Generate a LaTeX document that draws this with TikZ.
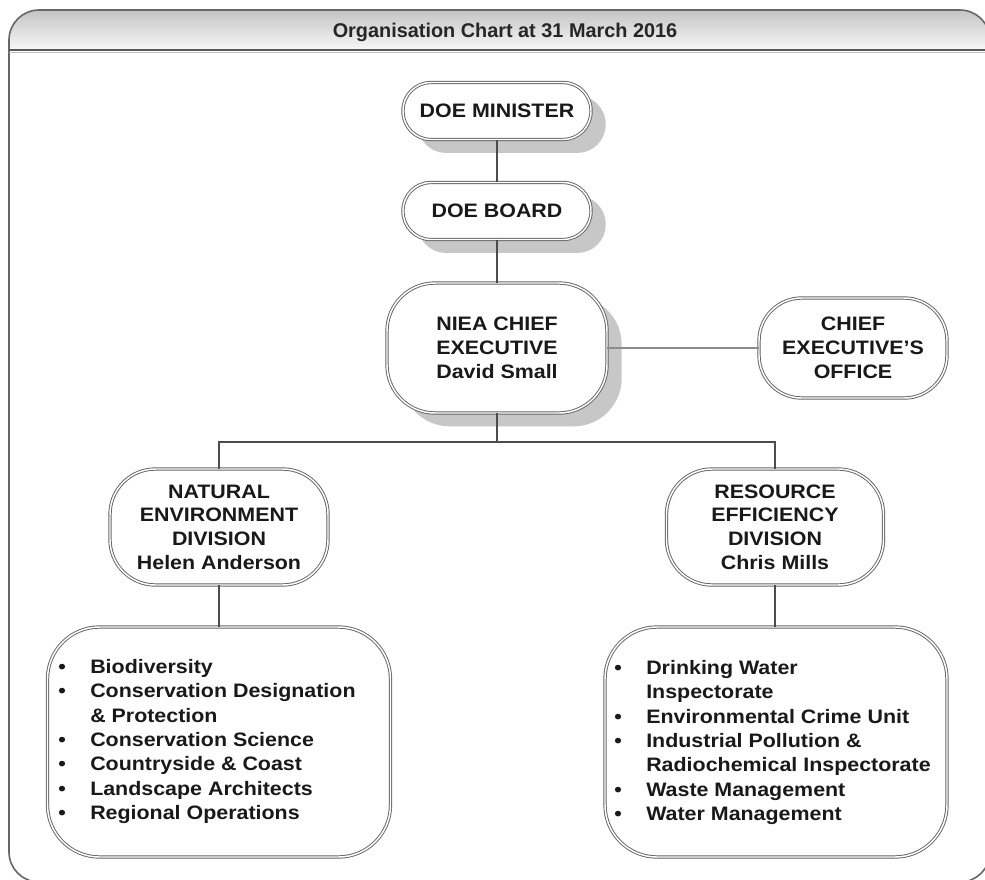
\documentclass[tikz,border=0pt]{standalone}
\usepackage{fontspec}
\setmainfont{Liberation Sans}[FakeStretch=1.1]
\newfontfamily\headfont{Liberation Sans}
\usetikzlibrary{shadows}
\newcommand\bul{\makebox[24pt][l]{•}}
\begin{document}
\begin{tikzpicture}[x=0.75pt,y=-0.75pt,
  box/.style={draw=black!60, double=white, double distance=1.1pt, line width=0.7pt,
    fill=white, align=center, inner sep=0pt, text=black!90,
    font=\bfseries\fontsize{14.6}{17.8}\selectfont},
  shad/.style={drop shadow={shadow xshift=11pt, shadow yshift=-10pt, fill=black!22, opacity=1}},
  listtext/.style={align=left, inner sep=0pt, text=black!90,
    font=\bfseries\fontsize{14.6}{18.3}\selectfont},
  conn/.style={draw=black!70, line width=1.1pt},
  thinconn/.style={draw=black!45, line width=0.9pt},
  frame/.style={draw=black!60, line width=1.2pt}]
\useasboundingbox (0,0) rectangle (985,879);

% outer frame and header
\begin{scope}
  \clip[rounded corners=22.5pt] (9,10) rectangle (990,882);
  \shade[top color=black!28, bottom color=black!3] (0,0) rectangle (995,50);
\end{scope}
\draw[frame, rounded corners=22.5pt] (9,10) rectangle (990,882);
\draw[black!65, line width=1pt] (9,50) -- (990,50);
\draw[black!25, line width=0.8pt] (9,52.5) -- (990,52.5);
\node[anchor=base, font=\headfont\bfseries\fontsize{14.9}{17}\selectfont, text=black!85] (title) at (505,37)
  {Organisation Chart at 31 March 2016};

% nodes
\node[box, shad, minimum width=141pt, minimum height=42.75pt, rounded corners=21pt] (min) at (497,111) {DOE MINISTER};
\node[box, shad, minimum width=141pt, minimum height=42.75pt, rounded corners=21pt] (board) at (497,211) {DOE BOARD};
\node[box, shad, minimum width=165pt, minimum height=97.5pt, rounded corners=36pt, align=left] (niea) at (497,348)
  {NIEA CHIEF\\EXECUTIVE\\David Small};
\node[box, minimum width=141pt, minimum height=75pt, rounded corners=32pt] (ceo) at (853,348)
  {CHIEF\\EXECUTIVE'S\\OFFICE};
\node[box, minimum width=163.5pt, minimum height=87pt, rounded corners=34pt] (ned) at (219,527)
  {NATURAL\\ENVIRONMENT\\DIVISION\\Helen Anderson};
\node[box, minimum width=162.75pt, minimum height=87pt, rounded corners=34pt] (red) at (775,527)
  {RESOURCE\\EFFICIENCY\\DIVISION\\Chris Mills};
\node[box, minimum width=257.25pt, minimum height=172.5pt, rounded corners=39pt] (nel) at (219,742) {};
\node[box, minimum width=256.5pt, minimum height=172.5pt, rounded corners=39pt] (rel) at (776,742) {};

\node[listtext, anchor=north west] (nelt) at (58,659)
  {\bul Biodiversity\\
   \bul Conservation Designation\\
   \hspace*{24pt}\& Protection\\
   \bul Conservation Science\\
   \bul Countryside \& Coast\\
   \bul Landscape Architects\\
   \bul Regional Operations};
\node[listtext, anchor=north west] (relt) at (614,660)
  {\bul Drinking Water\\
   \hspace*{24pt}Inspectorate\\
   \bul Environmental Crime Unit\\
   \bul Industrial Pollution \&\\
   \hspace*{24pt}Radiochemical Inspectorate\\
   \bul Waste Management\\
   \bul Water Management};

% connectors
\coordinate (bus) at (497,442);
\draw[conn] (min.south) -- (board.north);
\draw[conn] (board.south) -- (niea.north);
\draw[thinconn] (niea.east) -- (ceo.west);
\draw[conn] (niea.south) -- (bus);
\draw[conn] (ned.north) |- (bus) -| (red.north);
\draw[conn] (ned.south) -- (nel.north);
\draw[conn] (red.south) -- (red.south |- rel.north);
\end{tikzpicture}
\end{document}
